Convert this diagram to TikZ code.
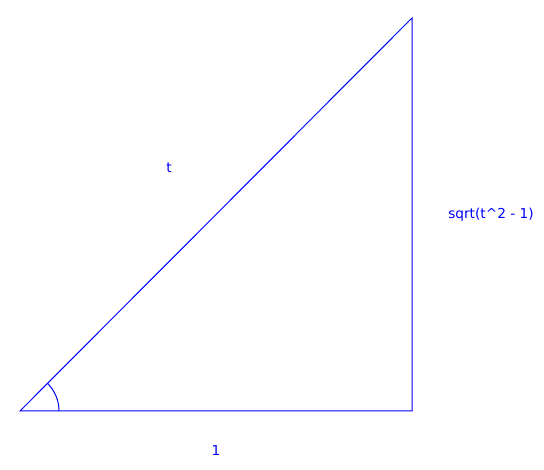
\documentclass[tikz,border=0pt]{standalone}
\usepackage{xcolor}
\usepackage{tikz}
\usepackage{fontspec}
\setmainfont{DejaVu Sans}
\usetikzlibrary{
  calc,
  positioning
}
\definecolor{trBlue}{HTML}{0000FF}
\tikzset{
  trline/.style={draw=trBlue, line width=1pt},
  trlabel/.style={font=\fontsize{13.7}{16}\selectfont, text=trBlue, inner sep=0pt}
}

\begin{document}
\begin{tikzpicture}[x=1pt, y=1pt]
  \useasboundingbox (0,0) rectangle (544,470);
  \coordinate (base) at (20,59);
  \coordinate (rightangle) at (412,59);
  \coordinate (apex) at (412,452);
  \draw[trline] (base) -- (rightangle) -- (apex) -- cycle;
  \draw[trline] ($(base)+(39,0)$) arc[start angle=0, end angle=45.1, radius=39];
  \node[trlabel] (hyp) at (169,302) {t};
  \node[trlabel] (opp) at (491,255.5) {sqrt(t\^{}2 - 1)};
  \node[trlabel] (adj) at (216,19) {1};
\end{tikzpicture}
\end{document}
